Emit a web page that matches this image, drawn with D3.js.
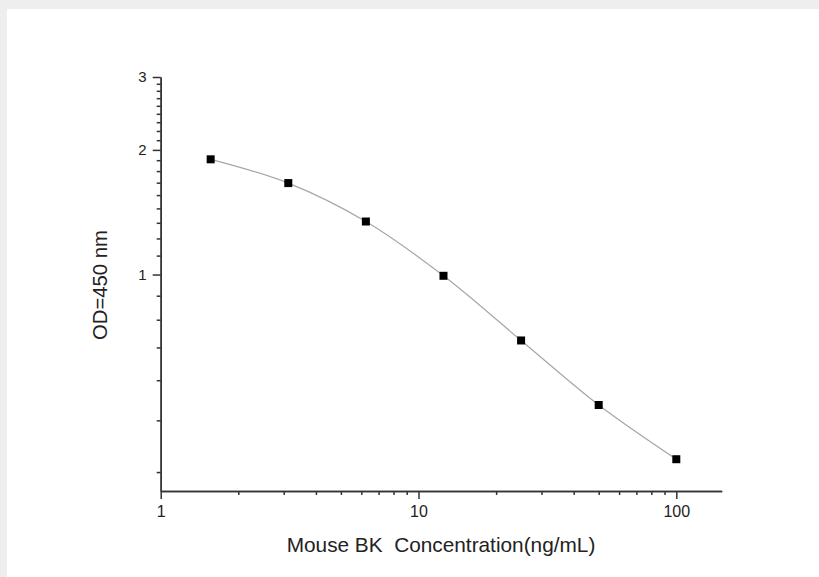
<!DOCTYPE html>
<html>
<head>
<meta charset="utf-8">
<script src="https://cdn.jsdelivr.net/npm/d3@7"></script>
<style>
    html, body { margin: 0; padding: 0; background: #eeeeee; }
    #chart { width: 819px; height: 577px; }
    text { font-family: Arial, "Liberation Sans", sans-serif; fill: #222; }
</style>
</head>
<body>
<div id="chart"></div>
<script>
// Standard curve data (concentration in ng/mL, OD at 450 nm)
const concentrations = [1.5625, 3.125, 6.25, 12.5, 25, 50, 100];
const odValues = [1.898, 1.663, 1.343, 0.993, 0.693, 0.484, 0.358];

// Axis setup
const xDomain = [1, 150];
const yDomain = [0.3, 3];
const xMajorTicks = [1, 10, 100];
const yMajorTicks = [1, 2, 3];
const xTitle = 'Mouse BK\u00a0\u00a0Concentration(ng/mL)';
const yTitle = 'OD=450 nm';

window.stdCurve = {
    render: function (containerId) {
        const container = document.getElementById(containerId);
        const width = 819;
        const height = 577;

        const svg = d3.select(container)
            .append('svg')
            .attr('width', width)
            .attr('height', height);

        // white panel on grey page
        svg.append('rect')
            .attr('x', 7)
            .attr('y', 9)
            .attr('width', width - 7)
            .attr('height', height - 9)
            .attr('fill', '#ffffff');

        const margin = { top: 77, left: 160.7, right: 97.3, bottom: 86 };

        const xScale = d3.scaleLog()
            .domain(xDomain)
            .range([margin.left, width - margin.right]);

        const yScale = d3.scaleLog()
            .domain(yDomain)
            .range([height - margin.bottom, margin.top]);

        this.drawCurve(svg, xScale, yScale);
        this.drawAxes(svg, xScale, yScale, height - margin.bottom, margin.left);
        this.drawTitles(svg);
    },

    drawAxes: function (svg, xScale, yScale, x0y, y0x) {
        // x minor ticks: 2..9 in each decade
        const xMinor = [];
        xMajorTicks.forEach(m => {
            d3.range(2, 10).forEach(k => {
                const v = m * k;
                if (v < xDomain[1]) xMinor.push(v);
            });
        });

        // y minor ticks: 8 linear steps between each major tick
        const yMinor = [];
        [0].concat(yMajorTicks).forEach((m, i, arr) => {
            if (i === arr.length - 1) return;
            const next = arr[i + 1];
            d3.range(1, 9).forEach(k => {
                const v = m + (next - m) * k / 9;
                if (v >= yDomain[0]) yMinor.push(v);
            });
        });

        const styleAxis = (g, fontSize) => {
            g.attr('font-size', fontSize);
            g.selectAll('path, line')
                .attr('stroke', '#333')
                .attr('stroke-width', 1.5);
            g.selectAll('text')
                .style('font-size', fontSize + 'px')
                .attr('fill', '#222');
        };

        svg.append('g')
            .attr('transform', `translate(0,${x0y})`)
            .call(d3.axisBottom(xScale).tickValues(xMinor).tickSize(4).tickSizeOuter(0).tickFormat(''))
            .call(styleAxis, 10);

        svg.append('g')
            .attr('transform', `translate(0,${x0y})`)
            .call(d3.axisBottom(xScale).tickValues(xMajorTicks).tickSize(8).tickSizeOuter(0)
                .tickPadding(7).tickFormat(d3.format('d')))
            .call(styleAxis, 16);

        svg.append('g')
            .attr('transform', `translate(${y0x},0)`)
            .call(d3.axisLeft(yScale).tickValues(yMinor).tickSize(4).tickSizeOuter(0).tickFormat(''))
            .call(styleAxis, 10);

        svg.append('g')
            .attr('transform', `translate(${y0x},0)`)
            .call(d3.axisLeft(yScale).tickValues(yMajorTicks).tickSize(8).tickSizeOuter(0)
                .tickPadding(6).tickFormat(d3.format('d')))
            .call(styleAxis, 15);
    },

    drawCurve: function (svg, xScale, yScale) {
        const points = concentrations.map((c, i) => ({ x: c, y: odValues[i] }));

        const line = d3.line()
            .x(d => xScale(d.x))
            .y(d => yScale(d.y))
            .curve(d3.curveCatmullRom);

        svg.append('path')
            .datum(points)
            .attr('d', line)
            .attr('fill', 'none')
            .attr('stroke', '#a6a6a6')
            .attr('stroke-width', 1.2);

        const size = 8;
        svg.selectAll('.marker')
            .data(points)
            .enter()
            .append('rect')
            .attr('class', 'marker')
            .attr('x', d => xScale(d.x) - size / 2)
            .attr('y', d => yScale(d.y) - size / 2)
            .attr('width', size)
            .attr('height', size)
            .attr('fill', '#000');
    },

    drawTitles: function (svg) {
        svg.append('text')
            .attr('x', 441)
            .attr('y', 552)
            .attr('text-anchor', 'middle')
            .style('font-size', '20.8px')
            .text(xTitle);

        svg.append('text')
            .attr('transform', 'translate(107,285) rotate(-90)')
            .attr('text-anchor', 'middle')
            .style('font-size', '20.3px')
            .text(yTitle);
    }
};

stdCurve.render('chart');
</script>
</body>
</html>
